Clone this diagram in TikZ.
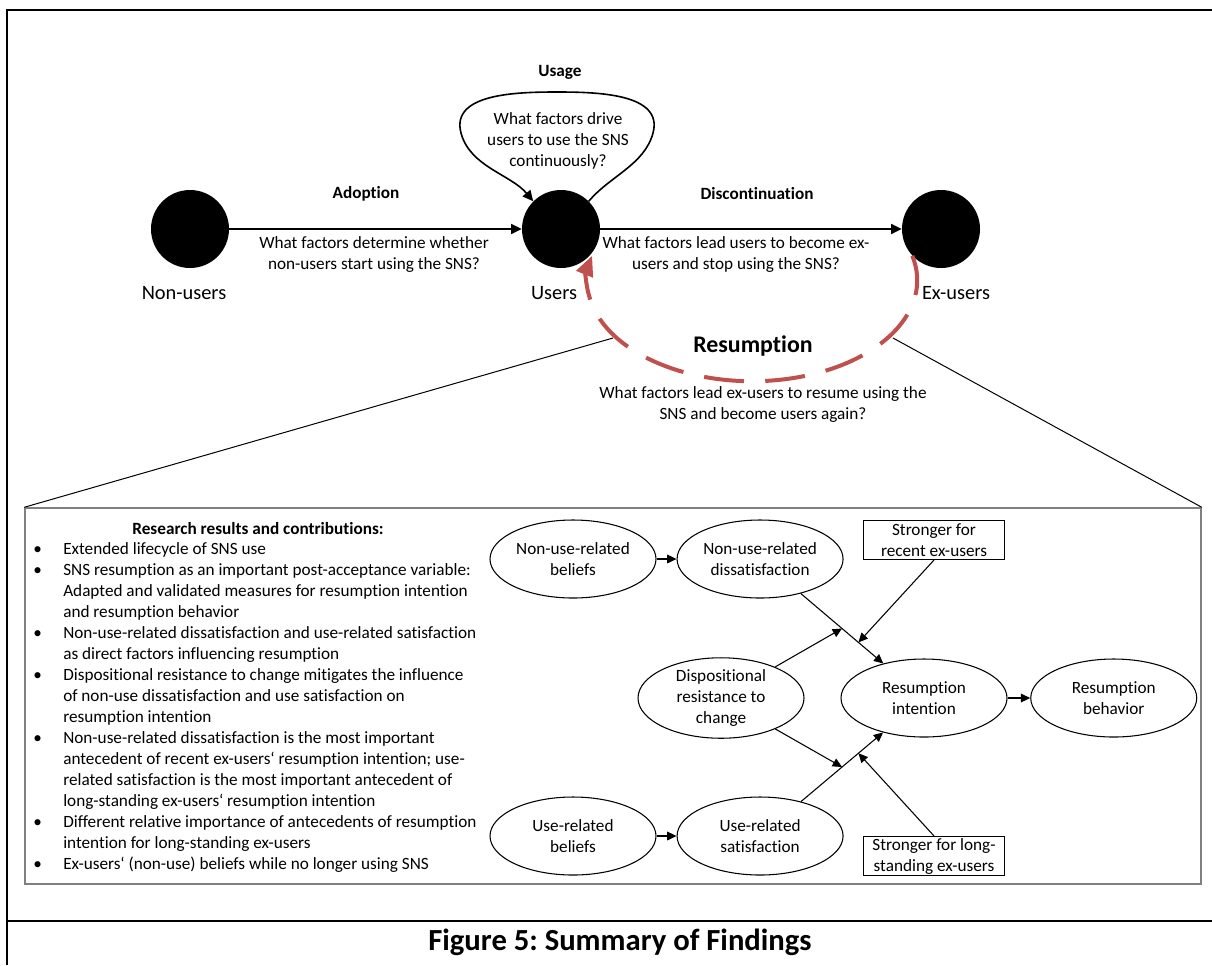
\documentclass[tikz,border=0pt]{standalone}
\usepackage{fontspec}
\setmainfont{Carlito}[Ligatures=NoCommon]
\usetikzlibrary{shapes.geometric,arrows.meta,positioning,calc}
\frenchspacing

\definecolor{resred}{HTML}{C0504D}
\newcommand{\figtext}{\fontsize{12.9}{15.75}\selectfont}

\begin{document}
\begin{tikzpicture}[
    x=0.75pt, y=0.75pt,
    font=\figtext,
    state/.style={circle, fill=black, minimum size=58.5pt, inner sep=0},
    statelbl/.style={font=\fontsize{15.3}{18}\selectfont, inner sep=0},
    phase/.style={font=\figtext\bfseries, inner sep=0},
    question/.style={align=center, inner sep=0},
    construct/.style={ellipse, draw, line width=0.8pt, minimum width=124.5pt, minimum height=58.5pt, inner sep=0, align=center},
    note/.style={rectangle, draw, line width=0.8pt, minimum width=105.75pt, minimum height=29.25pt, inner sep=0, align=center},
    arrow/.style={-{Triangle[length=8pt,width=7.5pt]}, line width=1.2pt},
    link/.style={-{Triangle[length=7pt,width=6.5pt]}, line width=0.8pt},
    zoomline/.style={line width=0.75pt}
]
\useasboundingbox (0,0) rectangle (1212,-965);

% Frame and caption
\draw[line width=1.6pt] (1212,-10) -- (7,-10) -- (7,-965);
\draw[line width=1.6pt] (7,-921) -- (1212,-921);
\node[font=\fontsize{23}{27}\selectfont\bfseries] (caption) at (620,-942) {Figure 5: Summary of Findings};

% Lifecycle of SNS use (top)
\node[state] (nonusers) at (190,-229) {};
\node[state] (users) at (561,-229) {};
\node[state] (exusers) at (941,-229) {};
\node[statelbl] (nonuserslbl) at (184,-293) {Non-users};
\node[statelbl] (userslbl) at (554,-293) {Users};
\node[statelbl] (exuserslbl) at (956,-293) {Ex-users};

\draw[arrow] (nonusers) -- (users);
\draw[arrow] (users) -- (exusers);
\node[phase] (adoption) at (366,-194) {Adoption};
\node[question] (adoptionq) at (374,-254) {What factors determine whether\\non-users start using the SNS?};
\node[phase] (discont) at (757,-194) {Discontinuation};
\node[question] (discontq) at (736,-254) {What factors lead users to become ex-\\users and stop using the SNS?};

% Usage loop
\draw[arrow] (users.45) to[out=50,in=-105,looseness=0.9] (653,-133) to[out=75,in=0] (557,-92)
    to[out=180,in=105] (461,-133) to[out=-75,in=130,looseness=0.9] (users.135);
\node[phase] (usage) at (560,-72) {Usage};
\node[question] (usageq) at (558,-141) {What factors drive\\users to use the SNS\\continuously?};

% Resumption
\draw[resred, line width=3pt, dash pattern=on 30pt off 16pt, -{Triangle[length=15pt,width=13pt]}]
    (exusers.223) arc[start angle=14, end angle=-194, x radius=123.75pt, y radius=75.75pt];
\node[phase, font=\fontsize{17.9}{21}\selectfont\bfseries] (resumption) at (753,-346) {Resumption};
\node[question] (resumptionq) at (763,-404) {What factors lead ex-users to resume using the\\SNS and become users again?};

% Findings box
\node[draw=black!50, line width=1.1pt, minimum width=882pt, minimum height=282pt, inner sep=0] (findings) at (613,-696) {};
\coordinate (zoomL) at (613,-338);
\coordinate (zoomR) at (893,-338);
\draw[zoomline] (zoomL) -- (findings.north west);
\draw[zoomline] (zoomR) -- (findings.north east);

\node[phase] (reshead) at (258,-529) {Research results and contributions:};
\node[anchor=north west, inner sep=0] (reslist) at (33,-540) {%
\begin{tabular}{@{}p{22.5pt}@{}l@{}}
\textbullet & Extended lifecycle of SNS use\\
\textbullet & SNS resumption as an important post-acceptance variable:\\
 & Adapted and validated measures for resumption intention\\
 & and resumption behavior\\
\textbullet & Non-use-related dissatisfaction and use-related satisfaction\\
 & as direct factors influencing resumption\\
\textbullet & Dispositional resistance to change mitigates the influence\\
 & of non-use dissatisfaction and use satisfaction on\\
 & resumption intention\\
\textbullet & Non-use-related dissatisfaction is the most important\\
 & antecedent of recent ex-users‘ resumption intention; use-\\
 & related satisfaction is the most important antecedent of\\
 & long-standing ex-users‘ resumption intention\\
\textbullet & Different relative importance of antecedents of resumption\\
 & intention for long-standing ex-users\\
\textbullet & Ex-users‘ (non-use) beliefs while no longer using SNS
\end{tabular}};

% Research model
\node[construct] (nbelief) at (573,-559) {Non-use-related\\beliefs};
\node[construct, right=15pt of nbelief] (ndissat) {Non-use-related\\dissatisfaction};
\node[construct] (ubelief) at (573,-836) {Use-related\\beliefs};
\node[construct, right=15pt of ubelief] (usat) {Use-related\\satisfaction};
\node[construct] (resist) at (721,-698) {Dispositional\\resistance to\\change};
\node[construct] (intent) at (924,-698) {Resumption\\intention};
\node[construct, right=17pt of intent] (behav) {Resumption\\behavior};
\node[note] (recent) at (934,-540) {Stronger for\\recent ex-users};
\node[note] (longst) at (934,-856) {Stronger for long-\\standing ex-users};

\draw[link] (nbelief) -- (ndissat);
\draw[link] (ubelief) -- (usat);
\draw[link] (ndissat) -- (intent);
\draw[link] (usat) -- (intent);
\draw[link] (intent) -- (behav);
\draw[link] (resist) -- ($(ndissat)!0.5!(intent)$);
\draw[link] (resist) -- ($(usat)!0.5!(intent)$);
\draw[link] (recent.south) -- ($(ndissat)!0.6!(intent)$);
\draw[link] (longst.north) -- ($(usat)!0.6!(intent)$);

\end{tikzpicture}
\end{document}
